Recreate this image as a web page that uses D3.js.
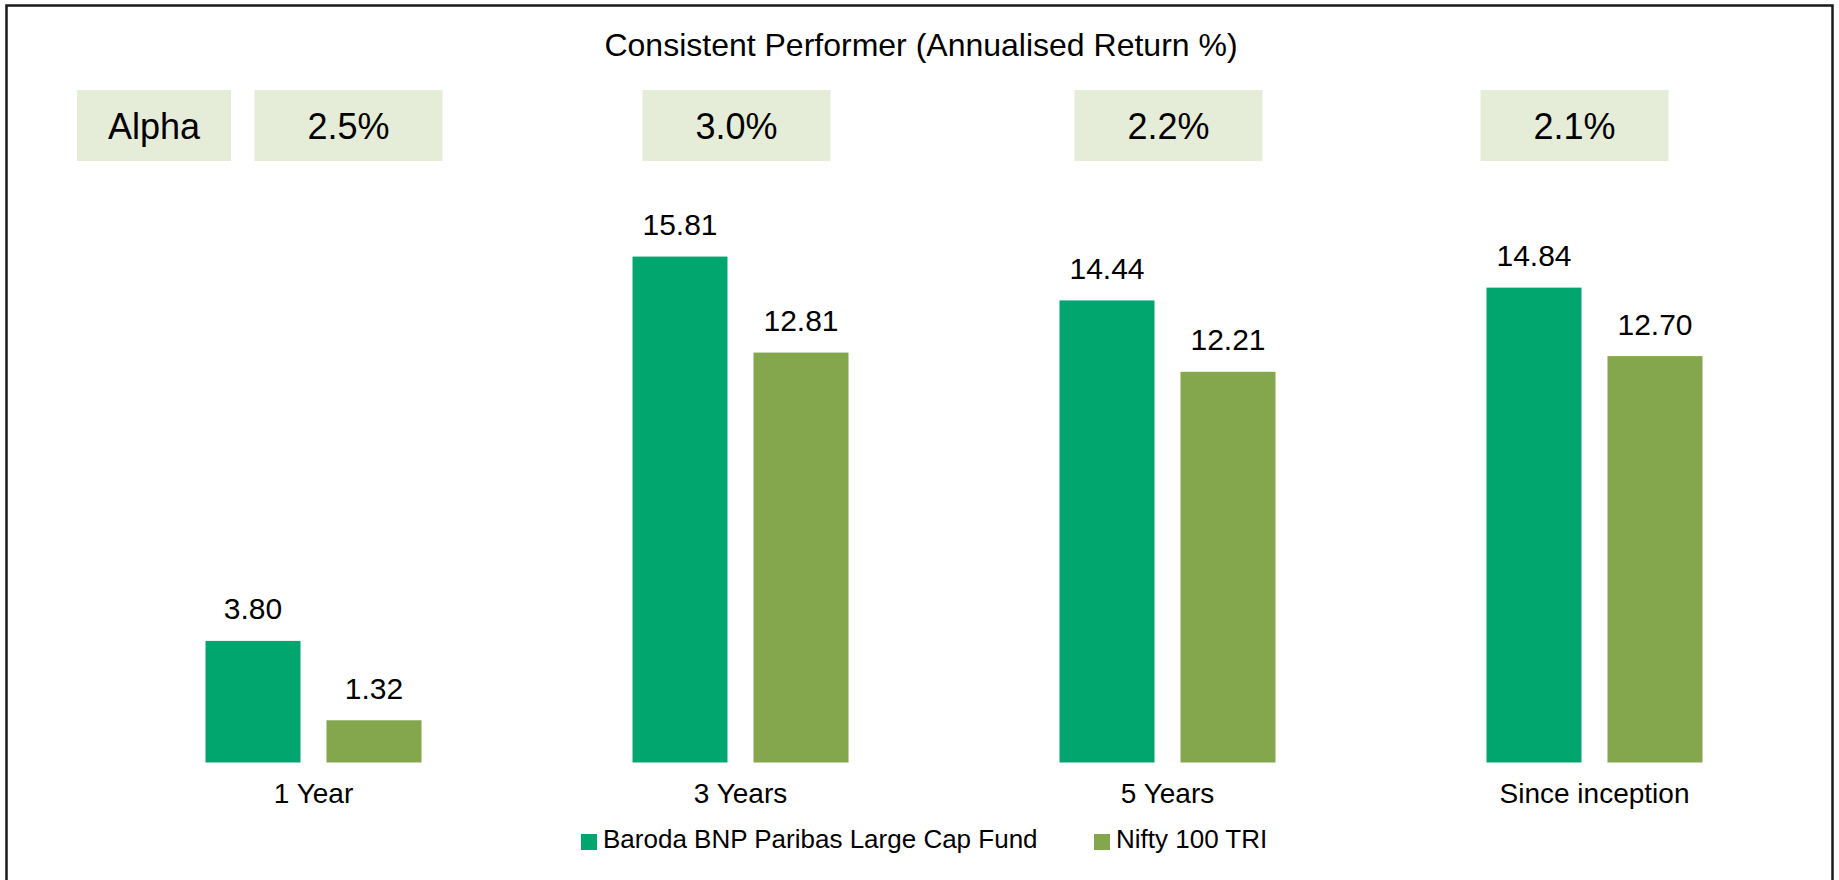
<!DOCTYPE html>
<html>
<head>
<meta charset="utf-8">
<script src="https://cdn.jsdelivr.net/npm/d3@7/dist/d3.min.js"></script>
<style>
  html, body { margin: 0; padding: 0; background: #fff; }
  svg { display: block; }
  text { font-family: "Liberation Sans", Arial, sans-serif; fill: #000; }
</style>
</head>
<body>
<script>
// ---- data ----
const categories = ["1 Year", "3 Years", "5 Years", "Since inception"];
const seriesNames = ["Baroda BNP Paribas Large Cap Fund", "Nifty 100 TRI"];
const fundValues = [3.80, 15.81, 14.44, 14.84];
const benchmarkValues = [1.32, 12.81, 12.21, 12.70];
const alphaLabels = ["2.5%", "3.0%", "2.2%", "2.1%"];
const titleText = "Consistent Performer (Annualised Return %)";
const alphaTitle = "Alpha";

// ---- layout (not data) ----
const W = 1839, H = 880;
const colors = ["#00a66e", "#84a64c"];
const boxFill = "#e5ecd8";
const alphaBoxShift = [35, -4, 1, -20];

const svg = d3.select("body").append("svg").attr("width", W).attr("height", H);

// frame
svg.append("rect")
  .attr("x", 6.5).attr("y", 5.5).attr("width", 1826).attr("height", 920)
  .attr("fill", "none").attr("stroke", "#1a1a1a").attr("stroke-width", 2.5);

// title
svg.append("text")
  .attr("x", 921).attr("y", 56)
  .attr("text-anchor", "middle")
  .style("font-size", "32px")
  .text(titleText);

// scales
const x0 = d3.scaleBand().domain(categories).range([100, 1808]).paddingInner(0).paddingOuter(0);
const x1 = d3.scaleBand().domain(seriesNames).range([-108, 108]).paddingInner(26 / 121).paddingOuter(0);
const y = d3.scaleLinear().domain([0, 16]).range([762.5, 250.5]);

const rows = categories.map((c, i) => ({
  cat: c,
  vals: [
    { s: seriesNames[0], v: fundValues[i], k: 0 },
    { s: seriesNames[1], v: benchmarkValues[i], k: 1 }
  ]
}));

// alpha boxes
const boxW = 188, boxH = 71, boxY = 90;
svg.append("rect")
  .attr("x", 77).attr("y", boxY).attr("width", 154).attr("height", boxH)
  .attr("fill", boxFill);
svg.append("text")
  .attr("x", 77 + 77).attr("y", boxY + boxH / 2 + 13)
  .attr("text-anchor", "middle")
  .style("font-size", "36px")
  .text(alphaTitle);

const ab = svg.append("g").selectAll("g").data(alphaLabels).join("g")
  .attr("transform", (d, i) => `translate(${x0(categories[i]) + x0.bandwidth() / 2 + alphaBoxShift[i]},${boxY})`);
ab.append("rect")
  .attr("x", -boxW / 2).attr("y", 0).attr("width", boxW).attr("height", boxH)
  .attr("fill", boxFill);
ab.append("text")
  .attr("x", 0).attr("y", boxH / 2 + 13)
  .attr("text-anchor", "middle")
  .style("font-size", "36px")
  .text(d => d);

// bars
const groups = svg.append("g").selectAll("g").data(rows).join("g")
  .attr("transform", d => `translate(${x0(d.cat) + x0.bandwidth() / 2},0)`);

groups.selectAll("rect").data(d => d.vals).join("rect")
  .attr("x", d => x1(d.s))
  .attr("width", x1.bandwidth())
  .attr("y", d => y(d.v))
  .attr("height", d => y(0) - y(d.v))
  .attr("fill", d => colors[d.k]);

groups.selectAll("text.val").data(d => d.vals).join("text")
  .attr("class", "val")
  .attr("x", d => x1(d.s) + x1.bandwidth() / 2)
  .attr("y", d => y(d.v) - 21.5)
  .attr("text-anchor", "middle")
  .style("font-size", "30px")
  .text(d => d.v.toFixed(2));

// category axis
const axis = svg.append("g")
  .attr("transform", `translate(0,${y(0)})`)
  .call(d3.axisBottom(x0).tickSize(0).tickPadding(0));
axis.select(".domain").remove();
axis.selectAll("text")
  .attr("dy", null)
  .attr("y", 40.5)
  .style("font-family", "'Liberation Sans', Arial, sans-serif")
  .style("font-size", "28px")
  .attr("fill", "#000");

// legend
const legendX = [581, 1094];
const lg = svg.append("g").selectAll("g").data(seriesNames).join("g")
  .attr("transform", (d, i) => `translate(${legendX[i]},0)`);
lg.append("rect")
  .attr("x", 0).attr("y", 834).attr("width", 16).attr("height", 16)
  .attr("fill", (d, i) => colors[i]);
lg.append("text")
  .attr("x", 22).attr("y", 848)
  .style("font-size", "26px")
  .text(d => d);
</script>
</body>
</html>
